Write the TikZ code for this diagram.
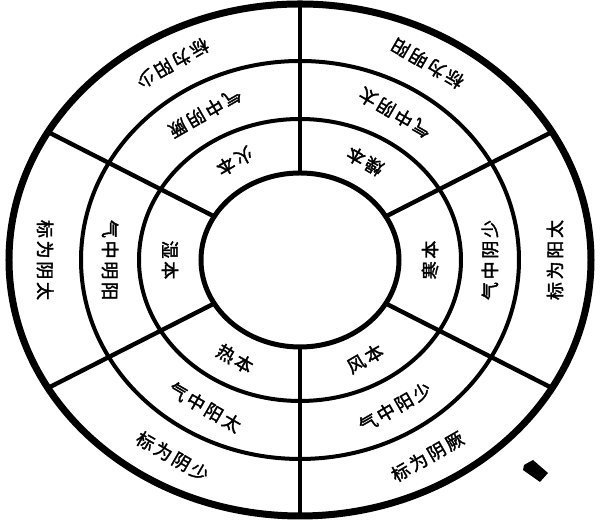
\documentclass[tikz,border=0pt]{standalone}
\usepackage{fontspec}
\newfontfamily\cjk[LetterSpace=15,FakeBold=2]{Noto Sans CJK SC}
\usepackage{tikz}

\tikzset{
  ring/.style={line width=2pt},
  spoke/.style={line width=2.2pt},
  lbl/.style={font=\cjk\fontsize{9}{9}\selectfont, inner sep=0pt}
}

\begin{document}
\begin{tikzpicture}[x=0.5pt, y=0.5pt]
        \useasboundingbox (-300,-262) rectangle (300,260);

        % Rings
        \draw[line width=2.5pt] (0,0) ellipse (99 and 87);
        \draw[ring] (0,0) ellipse (161 and 141);
        \draw[ring] (0,0) ellipse (219 and 199);
        \draw[line width=3.5pt] (0,0) ellipse (291 and 256);

        % Spokes
        \foreach \a [count=\i] in {90, 30, 330, 270, 210, 150} {
            \coordinate (s\i) at (\a:99 and 87);
            \coordinate (e\i) at (\a:291 and 256);
            \draw[spoke] (s\i) -- (e\i);
        }

        % Labels: inner, middle, outer ring of each sector
        \foreach \t/\ben/\zhong/\biao [count=\i] in {
            120/火本/气中阴厥/标为阳少,
            60/燥本/气中阴太/标为明阳,
            0/寒本/气中阴少/标为阳太,
            300/风本/气中阳少/标为阴厥,
            240/热本/气中阳太/标为阴少,
            180/湿本/气中明阳/标为阴太} {
            \node[lbl, rotate=\t+90] (ben\i) at (\t:130 and 114) {\ben};
            \node[lbl, rotate=\t+90] (zhong\i) at (\t:190 and 170) {\zhong};
            \node[lbl, rotate=\t+90] (biao\i) at (\t:255 and 227) {\biao};
        }

        % Ink blot
        \fill (224,-205) -- (233,-200) -- (248,-213) -- (240,-222) -- (223,-210) -- cycle;
    \end{tikzpicture}
\end{document}
